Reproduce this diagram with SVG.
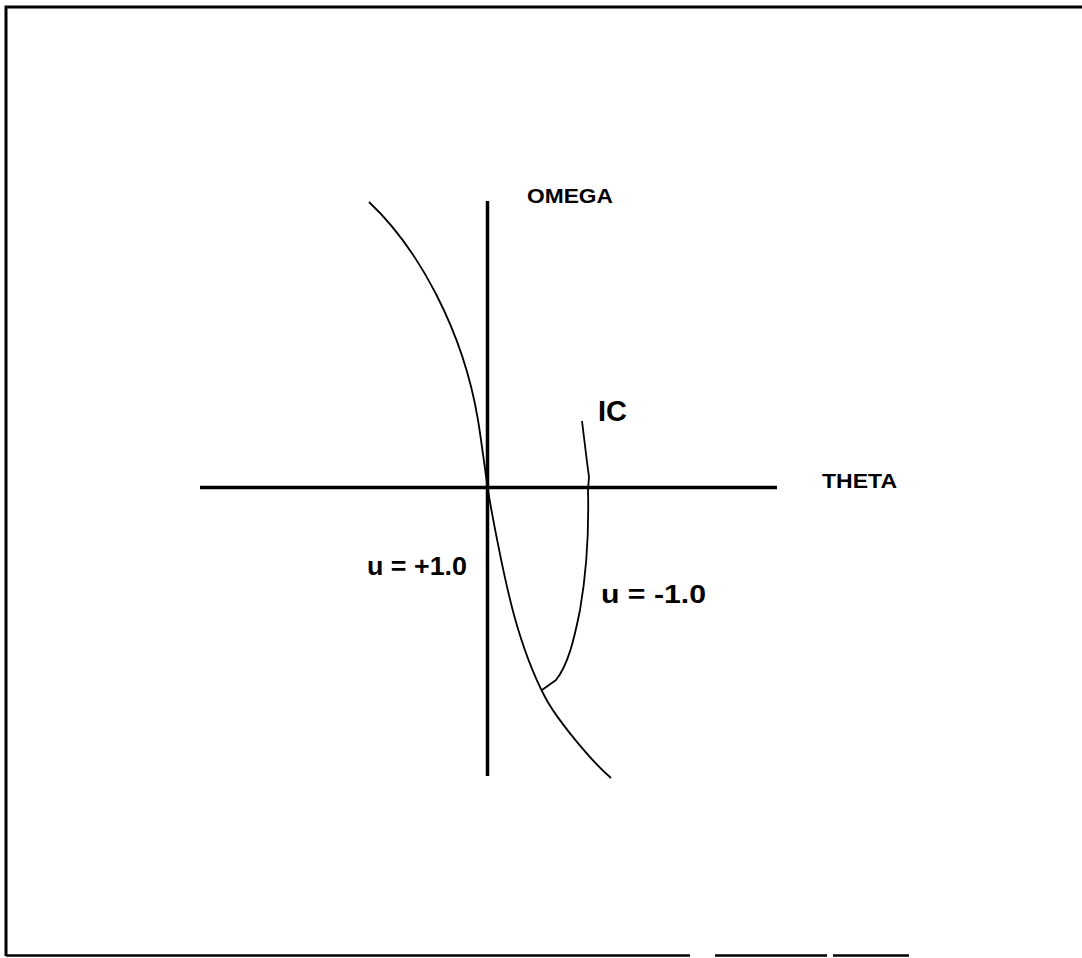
<svg xmlns="http://www.w3.org/2000/svg" width="1082" height="958" viewBox="0 0 1082 958">
<style>
.frame{stroke:#000;stroke-width:3;fill:none}
.axis{stroke:#000;stroke-width:3.5;fill:none;stroke-linecap:butt}
.curve{stroke:#000;stroke-width:1.8;fill:none;stroke-linejoin:round}
.lbl{font-family:"Liberation Sans",Arial,sans-serif;font-weight:bold;fill:#000}
</style>
<rect width="1082" height="958" fill="#fff"/>
<g id="frame">
<path class="frame" d="M6,956 L6,7 L1082,7"/>
<path class="frame" d="M6,955.5 L690,955.5 M715,955.5 L827,955.5 M833,955.5 L909,955.5" style="stroke-width:2.5"/>
</g>
<g id="connectors">
<line id="omega-axis" class="axis" x1="487.5" y1="201" x2="487.5" y2="776"/>
<line id="theta-axis" class="axis" x1="200" y1="487.5" x2="777" y2="487.5"/>
<path id="switching-curve" class="curve" d="M369,202 C418,248 463,330 478,420 C481,438 485,470 488,490 C490,503 503,575 514,615 C525,655 534,676 545,697 C556,718 590,760 611,778"/>
<path id="ic-trajectory" class="curve" d="M582,421 L587,462 L589,477 L588,490 C589,530 587,570 580,610 C574,640 568,665 556,680 L542,690"/>
</g>
<g id="label-omega"><text class="lbl" x="527" y="203" font-size="21" textLength="86" lengthAdjust="spacingAndGlyphs">OMEGA</text></g>
<g id="label-theta"><text class="lbl" x="822" y="488" font-size="21" textLength="75" lengthAdjust="spacingAndGlyphs">THETA</text></g>
<g id="label-ic"><text class="lbl" x="598" y="421" font-size="29" textLength="29" lengthAdjust="spacingAndGlyphs">IC</text></g>
<g id="label-u-plus"><text class="lbl" x="367" y="575" font-size="25" textLength="100" lengthAdjust="spacingAndGlyphs">u = +1.0</text></g>
<g id="label-u-minus"><text class="lbl" x="601" y="603" font-size="25" textLength="105" lengthAdjust="spacingAndGlyphs">u = -1.0</text></g>
</svg>
